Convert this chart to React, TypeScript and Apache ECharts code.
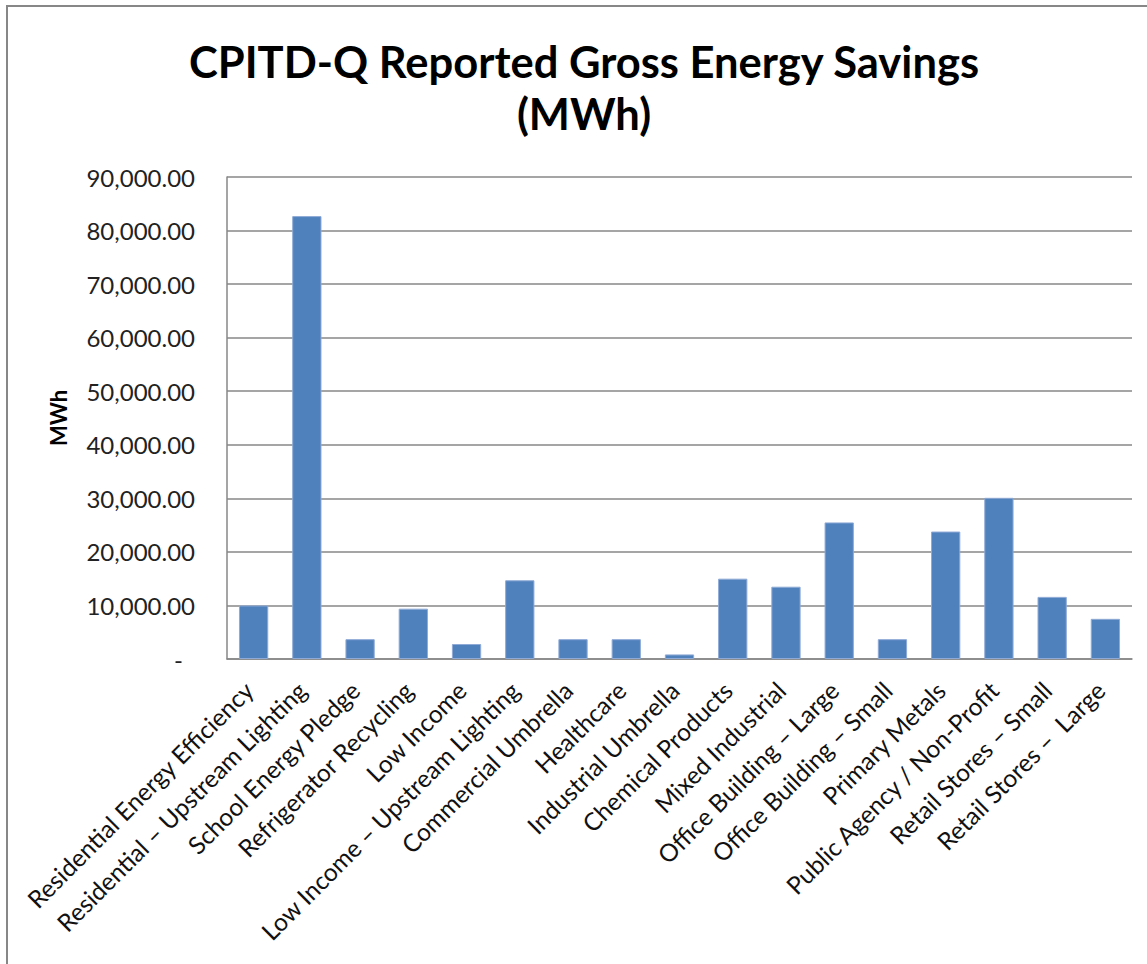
import React, { useEffect, useRef } from "react";
import * as echarts from "echarts";

const titleLines = ["CPITD-Q Reported Gross Energy Savings", "(MWh)"];
const yAxisName = "MWh";
const categories = [
  "Residential Energy Efficiency",
  "Residential – Upstream Lighting",
  "School Energy Pledge",
  "Refrigerator Recycling",
  "Low Income",
  "Low Income – Upstream Lighting",
  "Commercial Umbrella",
  "Healthcare",
  "Industrial Umbrella",
  "Chemical Products",
  "Mixed Industrial",
  "Office Building – Large",
  "Office Building – Small",
  "Primary Metals",
  "Public Agency / Non-Profit",
  "Retail Stores – Small",
  "Retail Stores –  Large",
];
const savingsMWh = [
  10000, 82700, 3700, 9400, 2800, 14700, 3700, 3700, 850, 15000, 13500, 25500,
  3700, 23800, 30100, 11600, 7500,
];
const yMin = 0;
const yMax = 90000;
const yInterval = 10000;

const FONT = "Lato, 'Noto Sans', sans-serif";

export default function App() {
  const ref = useRef<HTMLDivElement>(null);
  useEffect(() => {
    if (!ref.current) return;
    const chart = echarts.init(ref.current, null, { renderer: "svg" });
    chart.setOption({
      animation: false,
      backgroundColor: "#ffffff",
      textStyle: { fontFamily: FONT },
      title: {
        text: titleLines.join("\n"),
        left: 579,
        top: 30,
        textAlign: "center",
        textStyle: {
          fontFamily: FONT,
          fontSize: 43.5,
          fontWeight: "bold",
          color: "#000000",
          lineHeight: 52,
        },
      },
      graphic: [
        {
          type: "rect",
          shape: { x: 7, y: 6, width: 1300, height: 1100 },
          style: { fill: "none", stroke: "#878787", lineWidth: 2 },
          silent: true,
        },
      ],
      grid: { left: 227, right: 15, top: 177, bottom: 305, containLabel: false },
      xAxis: {
        type: "category",
        data: categories,
        axisLine: { show: true, lineStyle: { color: "#878787", width: 1.5 } },
        axisTick: { show: false },
        axisLabel: {
          interval: 0,
          rotate: 45,
          margin: 22,
          padding: [0, 7, 0, 0],
          fontFamily: FONT,
          fontSize: 24.5,
          color: "#111111",
        },
      },
      yAxis: {
        type: "value",
        min: yMin,
        max: yMax,
        interval: yInterval,
        name: yAxisName,
        nameLocation: "middle",
        nameGap: 158,
        nameRotate: 90,
        nameTextStyle: {
          fontFamily: FONT,
          fontSize: 22,
          fontWeight: "bold",
          color: "#000000",
        },
        axisLine: { show: true, lineStyle: { color: "#878787", width: 1.5 } },
        axisTick: { show: false },
        splitLine: { show: true, lineStyle: { color: "#878787", width: 1.5 } },
        axisLabel: {
          margin: 32,
          fontFamily: FONT,
          fontSize: 24,
          color: "#222222",
          formatter: (v: number) =>
            v === 0
              ? "{z|-}"
              : v.toLocaleString("en-US", {
                  minimumFractionDigits: 2,
                  maximumFractionDigits: 2,
                }),
          rich: {
            z: {
              fontFamily: FONT,
              fontSize: 24,
              color: "#222222",
              padding: [0, 12, 0, 0],
            },
          },
        },
      },
      series: [
        {
          type: "bar",
          data: savingsMWh,
          barCategoryGap: "45%",
          itemStyle: {
            color: "#4F81BD",
            borderColor: "#8FAAD6",
            borderWidth: 1,
          },
        },
      ],
    });
    return () => chart.dispose();
  }, []);
  return (
    <div
      ref={ref}
      style={{ position: "fixed", left: 0, top: 0, width: 1147, height: 964 }}
    />
  );
}
